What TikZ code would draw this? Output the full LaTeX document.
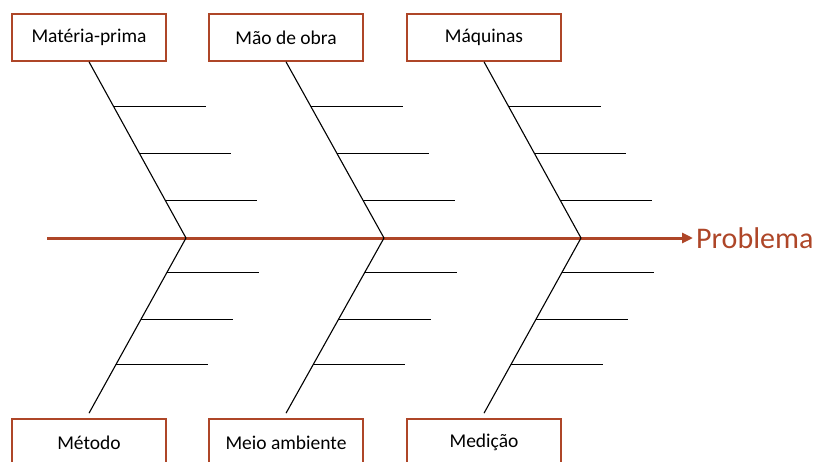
\documentclass[tikz,border=0pt]{standalone}
\usepackage{fontspec}
\setmainfont{Carlito}
\usetikzlibrary{calc,arrows.meta}
\definecolor{rust}{RGB}{174,70,40}

\tikzset{
  cause/.style={draw=rust, line width=1.6pt, fill=white, inner sep=0pt,
    minimum width=154pt, minimum height=47pt,
    font=\fontsize{19.5}{22}\selectfont},
  bone/.style={line width=1.1pt},
  spine/.style={draw=rust, line width=3pt, -{Triangle[length=11pt,width=10pt]}},
}

\begin{document}
\begin{tikzpicture}[x=1pt,y=-1pt]
		\useasboundingbox (0,0) rectangle (814,461);
		\clip (0,0) rectangle (814,461);
		% causes above the spine
		\node[cause] (mat) at (89,37.5) {Matéria-prima};
		\node[cause] (mao) at (286,37.5) {Mão de obra};
		\node[cause] (maq) at (484,37.5) {Máquinas};
		% causes below the spine
		\node[cause] (met) at (89,442.5) {Método};
		\node[cause] (mei) at (286,442.5) {Meio ambiente};
		\node[cause] (med) at (484,442.5) {Medição};
		% spine
		\coordinate (tail) at (47,238);
		\coordinate (head) at (693,238);
		\coordinate (j1) at (186,238);
		\coordinate (j2) at (384,238);
		\coordinate (j3) at (581,238);
		\draw[spine] (tail) -- (head);
		\node[right, text=rust, inner sep=3pt, font=\fontsize{30}{33}\selectfont] (prob) at (head) {Problema};
		% bones and their branches
		\foreach \t/\j/\b in {mat/j1/met, mao/j2/mei, maq/j3/med} {
			\coordinate (\b-end) at ($(\b.north)+(0,-5)$);
			\draw[bone] (\t.south) -- (\j) -- (\b-end);
			\foreach \f in {0.254,0.52,0.785}
				\draw[bone] ($(\t.south)!\f!(\j)$) -- ++(92,0);
			\foreach \f in {0.196,0.463,0.724}
				\draw[bone] ($(\j)!\f!(\b-end)$) -- ++(92,0);
		}
\end{tikzpicture}
\end{document}
